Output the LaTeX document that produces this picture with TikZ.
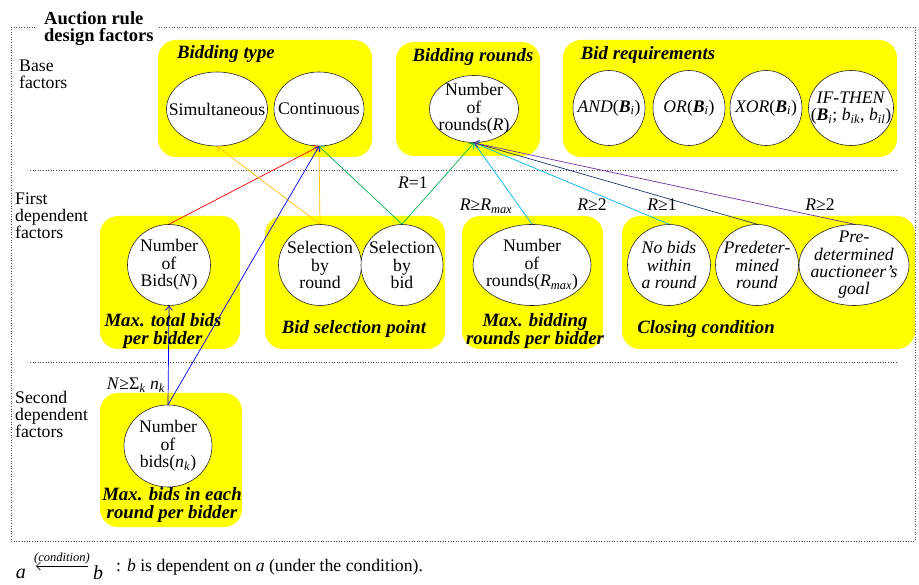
\documentclass[tikz,border=0pt]{standalone}
\usepackage{fontspec}
\setmainfont{Liberation Serif}
\usetikzlibrary{shapes.geometric,arrows.meta}
\definecolor{ylw}{HTML}{FFFF00}
\definecolor{cred}{HTML}{FF0000}
\definecolor{corange}{HTML}{FFC000}
\definecolor{cgreen}{HTML}{00B050}
\definecolor{cblue}{HTML}{0000FF}
\definecolor{ccyan}{HTML}{00B0F0}
\definecolor{cnavy}{HTML}{1F3864}
\definecolor{cpurple}{HTML}{7030A0}
\newcommand{\fsz}{\fontsize{17.7}{17.3}\selectfont}
\newcommand{\tsz}{\fontsize{18.8}{17.5}\selectfont}
\newcommand{\lsz}{\fontsize{17.7}{17}\selectfont}
\newcommand{\subi}[1]{\textsubscript{\textit{#1}}}
\tikzset{
  ell/.style={ellipse, draw=black!85, fill=white, inner sep=0pt, line width=0.6pt},
  etext/.style={font=\fsz, align=center, inner sep=0pt},
  grp/.style={fill=ylw, rounded corners=18pt},
  gtitle/.style={font=\tsz\bfseries\itshape, align=center, inner sep=0pt},
  rowlab/.style={font=\lsz, align=left, anchor=north west, inner sep=0pt},
  dep/.style={-{Straight Barb[length=4pt,width=7pt]}, line width=0.7pt},
  cond/.style={font=\fsz, inner sep=0pt},
  border/.style={dotted, gray!60!black, line width=0.6pt}
}
\begin{document}
\begin{tikzpicture}[x=1pt,y=-1pt]
\useasboundingbox (0,0) rectangle (919,585);
% outer border and separators
\draw[border] (35,27) -- (11,27) -- (11,541) -- (915,541) -- (915,27) -- (158,27);
\draw[border] (30,170) -- (897,170);
\draw[border] (30,362) -- (897,362);
\node[font=\fontsize{18.5}{17}\selectfont\bfseries, align=left, anchor=north west, inner sep=0pt] (title) at (44,11) {Auction rule\\design factors};
% row labels
\node[rowlab] (rl1) at (19,60) {Base\\factors};
\node[rowlab] (rl2) at (15,193) {First\\dependent\\factors};
\node[rowlab] (rl3) at (15,391) {Second\\dependent\\factors};
% group boxes
\fill[grp] (158,40) rectangle (372,157);
\fill[grp] (396,42) rectangle (540,156);
\fill[grp] (563,40) rectangle (897,157);
\fill[grp] (100,216) rectangle (240,349);
\fill[grp] (265,216) rectangle (445,349);
\fill[grp] (462,216) rectangle (603,349);
\fill[grp] (622,216) rectangle (915,349);
\fill[grp] (100,393) rectangle (242,527);
% group titles
\node[gtitle] (t1) at (226,54) {Bidding type};
\node[gtitle] (t2) at (473,57) {Bidding rounds};
\node[gtitle] (t3) at (648,55) {Bid requirements};
\node[gtitle] (t4) at (163,331) {Max. total bids\\per bidder};
\node[gtitle] (t5) at (354,329) {Bid selection point};
\node[gtitle] (t6) at (535,331) {Max. bidding\\rounds per bidder};
\node[gtitle] (t7) at (706,329) {Closing condition};
\node[gtitle] (t8) at (172,505) {Max. bids in each\\round per bidder};
% base factor ellipses
\node[ell, minimum width=101pt, minimum height=74pt] (simul) at (217,109) {};
\node[ell, minimum width=90pt, minimum height=74pt] (cont) at (319,109) {};
\node[ell, minimum width=89pt, minimum height=67pt] (R) at (474,109) {};
\node[ell, minimum width=72pt, minimum height=75pt] (and) at (609,108) {};
\node[ell, minimum width=72pt, minimum height=75pt] (or) at (689,108) {};
\node[ell, minimum width=72pt, minimum height=75pt] (xor) at (766,108) {};
\node[ell, minimum width=85pt, minimum height=75pt] (ift) at (851,108) {};
% first dependent
\node[ell, minimum width=83pt, minimum height=81pt] (N) at (169,265) {};
\node[ell, minimum width=83pt, minimum height=81pt] (selround) at (320,265) {};
\node[ell, minimum width=82pt, minimum height=81pt] (selbid) at (402,265) {};
\node[ell, minimum width=118pt, minimum height=81pt] (rmax) at (532,265) {};
\node[ell, minimum width=83pt, minimum height=81pt] (nobids) at (669,265) {};
\node[ell, minimum width=83pt, minimum height=81pt] (predet) at (757,265) {};
\node[ell, minimum width=110pt, minimum height=81pt] (goal) at (854,265) {};
% second dependent
\node[ell, minimum width=88pt, minimum height=82pt] (nk) at (168,446) {};
% ellipse texts
\node[etext] at (simul) {Simultaneous};
\node[etext] at (cont) {Continuous};
\node[etext] at (R) {Number\\of\\rounds(\textit{R})};
\node[etext] at (and) {\textit{AND}(\textbf{\textit{B}}\subi{i})};
\node[etext] at (or) {\textit{OR}(\textbf{\textit{B}}\subi{i})};
\node[etext] at (xor) {\textit{XOR}(\textbf{\textit{B}}\subi{i})};
\node[etext] at (ift) {\textit{IF-THEN}\\(\textbf{\textit{B}}\subi{i}; \textit{b}\subi{ik}, \textit{b}\subi{il})};
\node[etext] at (N) {Number\\of\\Bids(\textit{N})};
\node[etext] at (selround) {Selection\\by\\round};
\node[etext] at (selbid) {Selection\\by\\bid};
\node[etext] at (rmax) {Number\\of\\rounds(\textit{R}\subi{max})};
\node[etext, font=\fsz\itshape] at (nobids) {No bids\\within\\a round};
\node[etext, font=\fsz\itshape] at (predet) {Predeter-\\mined\\round};
\node[etext, font=\fsz\itshape] at (goal) {Pre-\\determined\\auctioneer’s\\goal};
\node[etext] at (nk) {Number\\of\\bids(\textit{n}\subi{k})};
% dependencies
\draw[dep, cred] (N.north) -- (cont.south);
\draw[dep, corange] (selround.north) -- (simul.south);
\draw[dep, corange] (selround.north) -- (cont.south);
\draw[dep, cgreen] (selbid.north) -- (cont.south);
\draw[dep, cgreen] (selbid.north) -- (R.south);
\draw[dep, cblue] (nk.north) -- (cont.south);
\draw[dep, cblue] (nk.north) -- (N.south);
\draw[dep, ccyan] (rmax.north) -- (R.south);
\draw[dep, ccyan] (nobids.north) -- (R.south);
\draw[dep, cnavy] (predet.north) -- (R.south);
\draw[dep, cpurple] (goal.north) -- (R.south);
% conditions
\node[cond] (c1) at (413,183) {\textit{R}=1};
\node[cond] (c2) at (486,206) {\textit{R}≥\textit{R}\subi{max}};
\node[cond] (c3) at (592,205) {\textit{R}≥2};
\node[cond] (c4) at (662,205) {\textit{R}≥1};
\node[cond] (c5) at (820,205) {\textit{R}≥2};
\node[cond] (c6) at (136,385) {\textit{N}≥Σ\subi{k} \textit{n}\subi{k}};
% legend
\node[font=\fontsize{20}{20}\selectfont\itshape, inner sep=0pt] (la) at (21,574) {a};
\node[font=\fontsize{20}{20}\selectfont\itshape, inner sep=0pt] (lb) at (98,573) {b};
\draw[-{Straight Barb[length=4pt,width=8pt]}, line width=0.6pt] (88,566) -- node[above=2pt, font=\fontsize{12.5}{13}\selectfont\itshape, inner sep=0pt] (lc) {(condition)} (36,566);
\node[font=\fsz, anchor=west, inner sep=0pt] (ltext) at (116,567) {: \textit{b} is dependent on \textit{a} (under the condition).};
\end{tikzpicture}
\end{document}
